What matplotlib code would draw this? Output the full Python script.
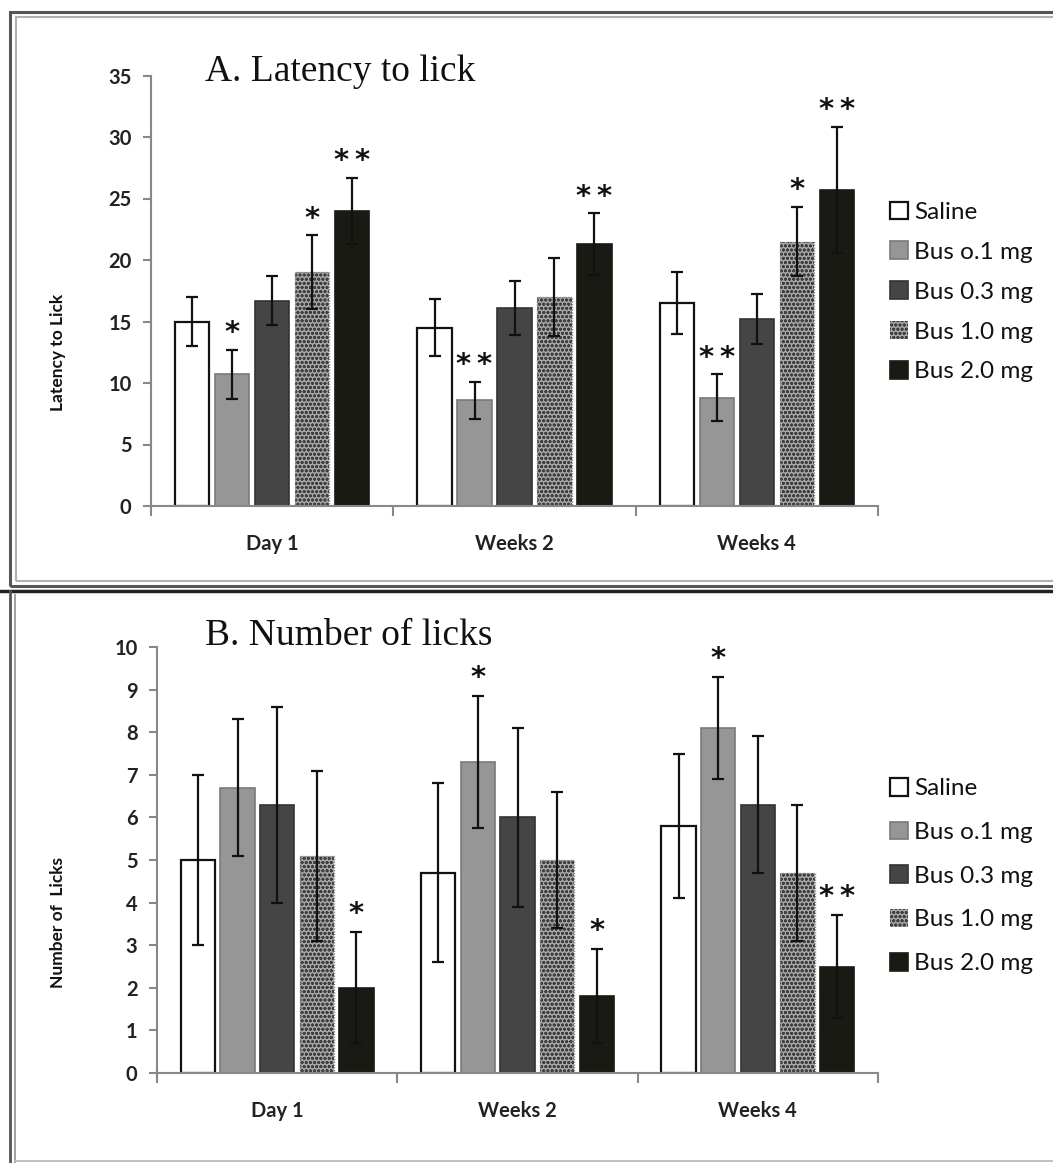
import matplotlib
matplotlib.use("Agg")
import matplotlib.pyplot as plt
from matplotlib.patches import Rectangle
from matplotlib.lines import Line2D
import numpy as np

W, H = 1053, 1163

# ---------------- data ----------------
timepoints = ["Day 1", "Weeks 2", "Weeks 4"]
groups = ["Saline", "Bus o.1 mg", "Bus 0.3 mg", "Bus 1.0 mg", "Bus 2.0 mg"]

latency_saline = [15.0, 14.5, 16.5]
latency_b01 = [10.7, 8.6, 8.8]
latency_b03 = [16.7, 16.1, 15.2]
latency_b10 = [19.0, 17.0, 21.5]
latency_b20 = [24.0, 21.3, 25.7]
latency_err_saline = [2.0, 2.3, 2.5]
latency_err_b01 = [2.0, 1.5, 1.9]
latency_err_b03 = [2.0, 2.2, 2.0]
latency_err_b10 = [3.0, 3.2, 2.8]
latency_err_b20 = [2.7, 2.5, 5.1]
latency_sig_saline = ["", "", ""]
latency_sig_b01 = ["*", "**", "**"]
latency_sig_b03 = ["", "", ""]
latency_sig_b10 = ["*", "", "*"]
latency_sig_b20 = ["**", "**", "**"]

licks_saline = [5.0, 4.7, 5.8]
licks_b01 = [6.7, 7.3, 8.1]
licks_b03 = [6.3, 6.0, 6.3]
licks_b10 = [5.1, 5.0, 4.7]
licks_b20 = [2.0, 1.8, 2.5]
licks_err_saline = [2.0, 2.1, 1.7]
licks_err_b01 = [1.6, 1.55, 1.2]
licks_err_b03 = [2.3, 2.1, 1.6]
licks_err_b10 = [2.0, 1.6, 1.6]
licks_err_b20 = [1.3, 1.1, 1.2]
licks_sig_saline = ["", "", ""]
licks_sig_b01 = ["", "*", "*"]
licks_sig_b03 = ["", "", ""]
licks_sig_b10 = ["", "", ""]
licks_sig_b20 = ["*", "*", "**"]

# ---------------- styles ----------------
styles = [
    dict(facecolor="white", edgecolor="#111111", linewidth=1.6),
    dict(facecolor="#969696", edgecolor="#7a7a7a", linewidth=1.2),
    dict(facecolor="#454545", edgecolor="#333333", linewidth=1.2),
    dict(facecolor="#a8a8a8", edgecolor="#3f3f3f", linewidth=0.0, hatch="oooo"),
    dict(facecolor="#1a1a14", edgecolor="#1a1a14", linewidth=1.2),
]

plt.rcParams["hatch.linewidth"] = 0.9
TICKFONT = ["Lato", "DejaVu Sans"]

fig = plt.figure(figsize=(W / 100, H / 100), dpi=100)


def fx(x):
    return x / W


def fy(y):
    return 1 - y / H


# panel frames
fig.add_artist(Rectangle((fx(10), fy(586)), fx(1080) - fx(10), fy(12) - fy(586),
                         transform=fig.transFigure, fill=False, edgecolor="#555555", lw=2.2))
fig.add_artist(Rectangle((fx(16), fy(581)), fx(1080) - fx(16), fy(17) - fy(581),
                         transform=fig.transFigure, fill=False, edgecolor="#b0b0b0", lw=1.5))
fig.add_artist(Line2D([0, 1], [fy(591), fy(591)], transform=fig.transFigure, color="#222222", lw=2.5))
fig.add_artist(Line2D([fx(10), fx(10)], [fy(591), 0], transform=fig.transFigure, color="#555555", lw=2.0))
fig.add_artist(Line2D([fx(15), fx(15)], [fy(595), 0], transform=fig.transFigure, color="#999999", lw=1.3))
fig.add_artist(Line2D([fx(15), 1], [fy(1161), fy(1161)], transform=fig.transFigure, color="#bbbbbb", lw=1.3))


def panel(ax_rect, series, errs, sigs, ymax, ystep, ylabel, title, title_xy, leg_y, leg_space, star_off):
    ax = fig.add_axes(ax_rect)
    x = np.arange(len(timepoints))
    pitch, width = 0.165, 0.142
    handles = []
    for j, (vals, err, sig, st) in enumerate(zip(series, errs, sigs, styles)):
        pos = x + (j - 2) * pitch
        bars = ax.bar(pos, vals, width=width, zorder=2, label=groups[j], **st)
        if j == 3:
            ax.bar(pos, vals, width=width, zorder=2.1, facecolor="none",
                   edgecolor="#8a8a8a", linewidth=1.0, linestyle=(0, (1, 1)))
        handles.append(bars)
        ax.errorbar(pos, vals, yerr=err, fmt="none", ecolor="#111111", elinewidth=1.6,
                    capsize=4, capthick=1.6, zorder=3)
        for p, v, e, s in zip(pos, vals, err, sig):
            if s:
                ax.annotate("\u2009".join(s), (p, v + e), xytext=(0, star_off), textcoords="offset points",
                            ha="center", va="center", fontsize=21, fontweight="bold",
                            family=["DejaVu Sans"], color="#111111")
    ax.set_xlim(-0.5, 2.5)
    ax.set_ylim(0, ymax)
    ax.set_yticks(np.arange(0, ymax + 0.01, ystep))
    ax.set_xticks(x)
    ax.set_xticklabels(timepoints)
    ax.set_xticks([-0.5, 0.5, 1.5, 2.5], minor=True)
    ax.tick_params(axis="x", which="major", length=0, pad=20)
    ax.tick_params(axis="x", which="minor", length=7, width=1.5, color="#888888", direction="out")
    ax.tick_params(axis="y", length=6, width=1.5, color="#888888", pad=8)
    for lab in ax.get_xticklabels() + ax.get_yticklabels():
        lab.set_family(TICKFONT)
        lab.set_fontsize(14.5)
        lab.set_fontweight("bold")
        lab.set_color("#222222")
    for s in ["top", "right"]:
        ax.spines[s].set_visible(False)
    for s in ["left", "bottom"]:
        ax.spines[s].set_color("#888888")
        ax.spines[s].set_linewidth(1.5)
    fig.text(fx(58), ax_rect[1] + ax_rect[3] * 0.5 - 62 / H, ylabel, rotation=90, ha="center", va="center",
             fontsize=12.5, fontweight="bold", family=TICKFONT, color="#111111")
    fig.text(fx(title_xy[0]), fy(title_xy[1]), title, ha="left", va="center", fontsize=27,
             family=["Liberation Serif", "DejaVu Serif"], color="#111111")
    leg = fig.legend(handles=handles, labels=groups, loc="center left",
                     bbox_to_anchor=(fx(890), fy(leg_y)), bbox_transform=fig.transFigure,
                     frameon=False, borderpad=0, borderaxespad=0, handlelength=0.75, handleheight=0.75,
                     handletextpad=0.25, labelspacing=leg_space,
                     prop={"family": TICKFONT, "size": 17.5})
    for t in leg.get_texts():
        t.set_color("#111111")
    return ax


top_series = [latency_saline, latency_b01, latency_b03, latency_b10, latency_b20]
top_err = [latency_err_saline, latency_err_b01, latency_err_b03, latency_err_b10, latency_err_b20]
top_sig = [latency_sig_saline, latency_sig_b01, latency_sig_b03, latency_sig_b10, latency_sig_b20]
bot_series = [licks_saline, licks_b01, licks_b03, licks_b10, licks_b20]
bot_err = [licks_err_saline, licks_err_b01, licks_err_b03, licks_err_b10, licks_err_b20]
bot_sig = [licks_sig_saline, licks_sig_b01, licks_sig_b03, licks_sig_b10, licks_sig_b20]

panel([fx(151), fy(506), fx(878) - fx(151), fy(75.5) - fy(506)], top_series, top_err, top_sig,
      35, 5, "Latency to Lick", "A. Latency to lick", (205, 72), 292, 0.76, 12)
panel([fx(157), fy(1073), fx(878) - fx(157), fy(647) - fy(1073)], bot_series, bot_err, bot_sig,
      10, 1, "Number of  Licks", "B. Number of licks", (205, 636), 876, 0.92, 13)

fig.savefig("out.png", dpi=100)
